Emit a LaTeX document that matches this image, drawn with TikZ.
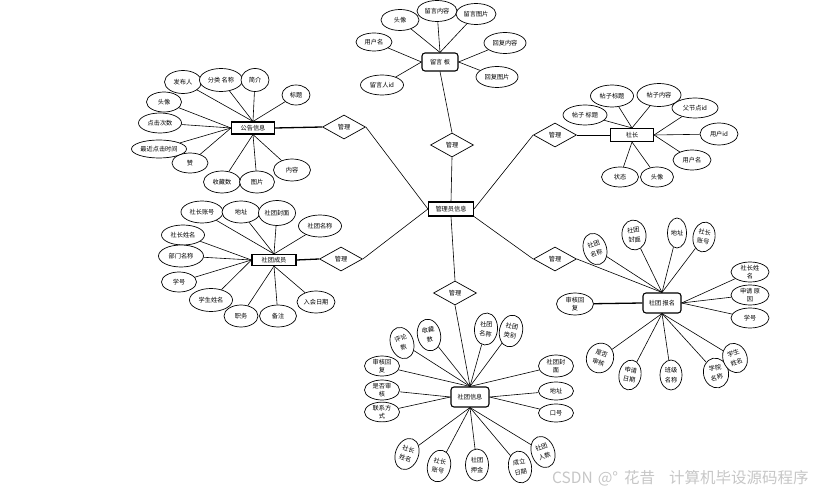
\documentclass[tikz,border=0pt]{standalone}
\usepackage{fontspec}
\setmainfont{Noto Sans CJK SC}
\usetikzlibrary{shapes.geometric}

\tikzset{
  entity/.style={draw, line width=1.1pt, fill=white, minimum width=43pt, minimum height=12pt, inner sep=1pt},
  entityr/.style={entity, rounded corners=3pt, minimum width=38pt, minimum height=20pt},
  attr/.style={draw, ellipse, line width=.7pt, fill=white, minimum width=38pt, minimum height=21pt, inner sep=0pt, align=center},
  attrv/.style={attr, minimum width=23pt, minimum height=32pt, font=\fontsize{6.2}{9.5}\selectfont},
  rel/.style={draw, diamond, line width=.7pt, fill=white, minimum width=43pt, minimum height=24pt, inner sep=0pt},
  link/.style={line width=.6pt},
  boldlink/.style={line width=1.3pt}
}

\begin{document}
\begin{tikzpicture}[x=1pt, y=-1pt, font=\fontsize{6.2}{8.2}\selectfont]
\useasboundingbox (0,0) rectangle (819,494);

% Centre and relations
\node[entity, minimum width=45pt, minimum height=14pt] (admin) at (451,209) {管理员信息};
\node[rel] (m1) at (452,145) {管理};
\node[rel] (m2) at (344,127) {管理};
\node[rel] (m3) at (341,259) {管理};
\node[rel] (m4) at (555,135) {管理};
\node[rel] (m5) at (555,259) {管理};
\node[rel] (m6) at (455,293) {管理};

% Entities
\node[entityr, minimum width=36pt, minimum height=18pt] (lyb) at (440,62) {留言 板};
\node[entity] (gg) at (253,128) {公告信息};
\node[entity, minimum height=13pt] (sz) at (632,135) {社长};
\node[entity, minimum width=44pt, minimum height=11pt] (cy) at (274,260) {社团成员};
\node[entityr] (bm) at (662,303) {社团 报名};
\node[entityr] (xx) at (470,397) {社团信息};

% 留言板
\node[attr] (ly1) at (400,20) {头像};
\node[attr, minimum width=40pt] (ly2) at (437,11) {留言内容};
\node[attr, minimum width=40pt] (ly3) at (476,14) {留言图片};
\node[attr, minimum width=36pt, minimum height=18pt] (ly4) at (374,42) {用户名};
\node[attr, minimum width=42pt] (ly5) at (505,43) {回复内容};
\node[attr, minimum width=43pt, minimum height=20pt] (ly6) at (382,85) {留言人id};
\node[attr, minimum width=42pt] (ly7) at (497,77) {回复图片};

% 公告信息
\node[attr, minimum width=37pt, minimum height=23pt] (gg1) at (183,82) {发布人};
\node[attr, minimum width=43pt, minimum height=23pt] (gg2) at (221,80) {分类 名称};
\node[attr, minimum width=28pt, minimum height=23pt] (gg3) at (255,80) {简介};
\node[attr, minimum width=28pt, minimum height=20pt] (gg4) at (296,95) {标题};
\node[attr, minimum width=35pt, minimum height=20pt] (gg5) at (164,102) {头像};
\node[attr, minimum width=43pt, minimum height=20pt] (gg6) at (160,123) {点击次数};
\node[attr, minimum width=55pt, minimum height=18pt] (gg7) at (159,149) {最近点击时间};
\node[attr, minimum width=36pt, minimum height=20pt] (gg8) at (190,163) {赞};
\node[attr, minimum width=37pt, minimum height=22pt] (gg9) at (222,182) {收藏数};
\node[attr, minimum width=35pt, minimum height=22pt] (gg10) at (257,182) {图片};
\node[attr, minimum width=37pt, minimum height=22pt] (gg11) at (292,170) {内容};

% 社长
\node[attr, minimum width=43pt, minimum height=22pt] (sz1) at (612,96) {帖子标题};
\node[attr, minimum width=44pt, minimum height=23pt] (sz2) at (659,95) {帖子内容};
\node[attr, minimum width=44pt, minimum height=20pt] (sz3) at (585,115) {帖子 标题};
\node[attr, minimum width=46pt, minimum height=20pt] (sz4) at (695,108) {父节点id};
\node[attr, minimum width=38pt, minimum height=22pt] (sz5) at (719,134) {用户id};
\node[attr, minimum width=38pt, minimum height=20pt] (sz6) at (692,160) {用户名};
\node[attr, minimum width=37pt, minimum height=20pt] (sz7) at (620,177) {状态};
\node[attr, minimum width=33pt, minimum height=20pt] (sz8) at (657,177) {头像};

% 社团成员
\node[attr, minimum width=42pt, minimum height=22pt] (cy1) at (202,212) {社长账号};
\node[attr, minimum width=38pt, minimum height=22pt] (cy2) at (241,212) {地址};
\node[attr, minimum width=37pt, minimum height=25pt] (cy3) at (277,213) {社团封面};
\node[attr, minimum width=43pt, minimum height=22pt] (cy4) at (320,226) {社团名称};
\node[attr, minimum width=43pt, minimum height=20pt] (cy5) at (183,235) {社长姓名};
\node[attr, minimum width=45pt, minimum height=22pt] (cy6) at (181,256) {部门名称};
\node[attr, minimum width=35pt, minimum height=20pt] (cy7) at (179,282) {学号};
\node[attr, minimum width=43pt, minimum height=23pt] (cy8) at (211,300) {学生姓名};
\node[attr, minimum width=34pt, minimum height=22pt] (cy9) at (241,316) {职务};
\node[attr, minimum width=37pt, minimum height=22pt] (cy10) at (278,316) {备注};
\node[attr, minimum width=38pt, minimum height=22pt] (cy11) at (316,302) {入会日期};

% 社团报名
\node[attrv, rotate=18] (bm1) at (595,249) {社团\\名称};
\node[attrv, rotate=8, minimum width=24pt, minimum height=30pt] (bm2) at (634,235) {社团\\封面};
\node[attrv, minimum width=19pt, minimum height=30pt] (bm3) at (677,233) {地址};
\node[attrv, rotate=-10, minimum width=22pt, minimum height=30pt] (bm4) at (704,237) {社长\\账号};
\node[attr, minimum height=20pt] (bm5) at (750,272) {社长姓\\名};
\node[attr, minimum height=20pt] (bm6) at (750,295) {申请 原\\因};
\node[attr, minimum height=20pt] (bm7) at (750,318) {学号};
\node[attr, minimum width=37pt, minimum height=22pt] (bm8) at (575,304) {审核回\\复};
\node[attrv, rotate=-20, minimum width=27pt, minimum height=30pt] (bm9) at (600,358) {是否\\审核};
\node[attrv, rotate=-10, minimum width=22pt, minimum height=30pt] (bm10) at (630,375) {申请\\日期};
\node[attrv, minimum width=22pt, minimum height=30pt] (bm11) at (671,375) {班级\\名称};
\node[attrv, rotate=12, minimum width=25pt, minimum height=30pt] (bm12) at (716,373) {学院\\名称};
\node[attrv, rotate=20, minimum width=24pt, minimum height=30pt] (bm13) at (735,358) {学生\\姓名};

% 社团信息
\node[attrv, rotate=18] (xx1) at (402,343) {评论\\数};
\node[attrv, rotate=12] (xx2) at (429,335) {收藏\\数};
\node[attrv, rotate=-5] (xx3) at (486,329) {社团\\名称};
\node[attrv, rotate=-12] (xx4) at (511,331) {社团\\类别};
\node[attr, minimum width=35pt, minimum height=20pt] (xx5) at (382,366) {审核回\\复};
\node[attr, minimum width=35pt, minimum height=20pt] (xx6) at (382,390) {是否审\\核};
\node[attr, minimum width=35pt, minimum height=18pt] (xx7) at (382,412) {联系方\\式};
\node[attr, minimum width=35pt, minimum height=22pt] (xx8) at (556,366) {社团封\\面};
\node[attr, minimum width=35pt, minimum height=18pt] (xx9) at (556,391) {地址};
\node[attr, minimum width=35pt, minimum height=18pt] (xx10) at (556,413) {口号};
\node[attrv, rotate=-20] (xx11) at (407,454) {社长\\姓名};
\node[attrv, rotate=-12] (xx12) at (439,466) {社长\\账号};
\node[attrv] (xx13) at (477,465) {社团\\押金};
\node[attrv, rotate=10] (xx14) at (520,467) {成立\\日期};
\node[attrv, rotate=20] (xx15) at (543,452) {社团\\人数};

% Attribute links
\foreach \a in {ly1,ly2,ly3} \draw[link] (\a) -- (lyb.north);
\foreach \a in {ly4,ly6} \draw[link] (\a) -- (lyb.west);
\foreach \a in {ly5,ly7} \draw[link] (\a) -- (lyb.east);
\foreach \a in {gg1,gg2,gg3,gg4} \draw[link] (\a) -- (gg.north);
\foreach \a in {gg5,gg6,gg7,gg8} \draw[link] (\a) -- (gg.west);
\foreach \a in {gg9,gg10,gg11} \draw[link] (\a) -- (gg.south);
\foreach \a in {sz1,sz2,sz3} \draw[link] (\a) -- (sz.north);
\foreach \a in {sz4,sz5,sz6} \draw[link] (\a) -- (sz.east);
\foreach \a in {sz7,sz8} \draw[link] (\a) -- (sz.south);
\foreach \a in {cy1,cy2,cy3,cy4} \draw[link] (\a) -- (cy.north);
\foreach \a in {cy5,cy6,cy7,cy8} \draw[link] (\a) -- (cy.west);
\foreach \a in {cy9,cy10,cy11} \draw[link] (\a) -- (cy.south);
\foreach \a in {bm1,bm2,bm3,bm4} \draw[link] (\a) -- (bm.north);
\foreach \a in {bm5,bm6,bm7} \draw[link] (\a) -- (bm.east);
\foreach \a in {bm9,bm10,bm11,bm12,bm13} \draw[link] (\a) -- (bm.south);
\draw[boldlink] (bm8) -- (bm.west);
\foreach \a in {xx1,xx2,xx3,xx4,xx5,xx8} \draw[link] (\a) -- (xx.north);
\foreach \a in {xx6,xx7} \draw[link] (\a) -- (xx.west);
\foreach \a in {xx9,xx10} \draw[link] (\a) -- (xx.east);
\foreach \a in {xx11,xx12,xx13,xx14,xx15} \draw[link] (\a) -- (xx.south);

% Relation links
\draw[link] (admin.north) -- (m1.south);
\draw[link] (m1.north) -- (lyb.south);
\draw[link] (m2.east) -- (admin.west);
\draw[boldlink] (m2.west) -- (gg.east);
\draw[link] (m3.east) -- (admin.west);
\draw[boldlink] (m3.west) -- (cy.east);
\draw[link] (m4.west) -- (admin.east);
\draw[link] (m4.east) -- (sz.west);
\draw[link] (m5.west) -- (admin.south east);
\draw[link] (m5.east) -- (bm.north);
\draw[link] (admin.south) -- (m6.north);
\draw[link] (m6.south) -- (xx.north);

% Watermark
\node[text=gray!45, font=\fontsize{15.5}{17}\selectfont, anchor=west, inner sep=0pt] (wm) at (552,478) {CSDN\hspace{5pt}@°\hspace{6pt}花昔\hspace{14pt}计算机毕设源码程序};
\end{tikzpicture}
\end{document}
